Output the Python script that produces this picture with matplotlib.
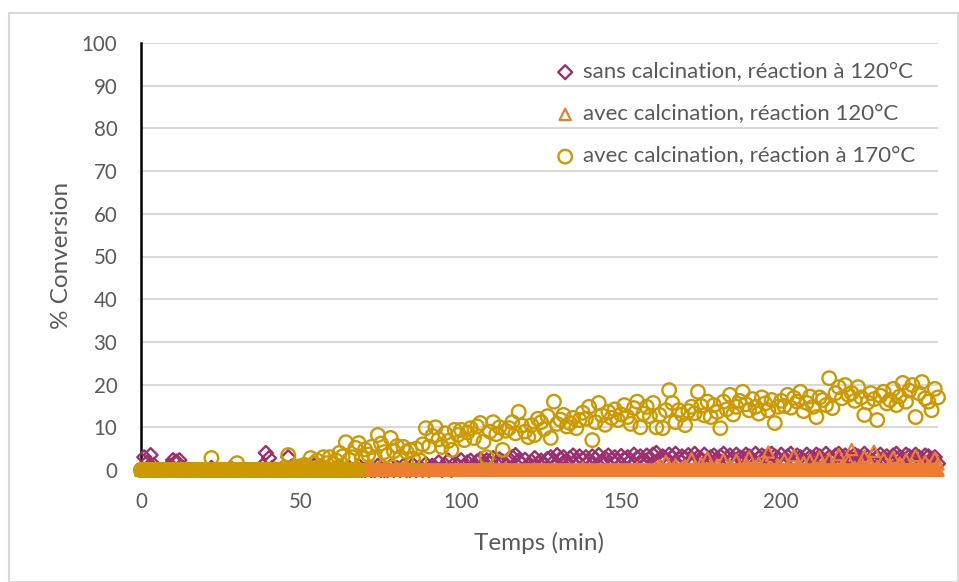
import matplotlib
matplotlib.use("Agg")
import matplotlib.pyplot as plt
from matplotlib.patches import Rectangle

# ---------------- data ----------------
temps = list(range(0, 250))  # minutes, one reading per minute

sans_calc_120 = [
    0, 3.0, 1.8, 3.5, 1.2, 0, 0, 0, 0, 1.0,
    2.3, 2.0, 2.3, 0.5, 0, 0, 0, 0, 0, 0,
    0, 0, 0.5, 0, 0, 0, 0, 0, 0.5, 0,
    0, 0, 0, 0, 0, 0, 0, 0, 1.0, 4.0,
    2.8, 0.5, 0, 0, 0, 0, 3.0, 0.8, 0, 0,
    0, 0.5, 0, 0, 1.0, 0, 0, 0.5, 0, 0,
    0, 0, 0.8, 0, 0, 0.5, 0, 0, 1.0, 0,
    0, 0.6, 0, 0, 1.0, 0, 0, 0, 0.8, 0,
    0.5, 0, 1.0, 0, 0, 1.2, 0, 0.6, 0, 1.4,
    0, 1.0, 0.5, 1.8, 0, 1.2, 2.2, 0, 1.5, 1.0,
    2.3, 1.0, 1.8, 2.2, 0.8, 2.0, 2.5, 1.2, 2.3, 1.6,
    2.8, 1.4, 2.5, 2.0, 1.0, 2.6, 3.0, 3.5, 2.2, 1.5,
    2.4, 1.0, 2.0, 2.8, 1.6, 2.2, 1.2, 2.6, 3.0, 2.0,
    3.5, 2.6, 3.0, 1.8, 2.8, 3.4, 2.2, 3.2, 2.5, 3.0,
    2.0, 3.2, 2.6, 3.5, 2.0, 2.8, 3.4, 2.4, 3.0, 2.2,
    3.3, 2.6, 3.0, 2.2, 3.6, 2.8, 3.2, 2.0, 3.4, 2.8,
    3.6, 4.0, 2.6, 3.2, 2.4, 3.6, 3.0, 3.8, 2.6, 3.2,
    2.8, 3.5, 2.4, 3.8, 3.0, 2.6, 3.6, 2.2, 3.0, 3.4,
    2.6, 3.2, 3.8, 2.8, 3.4, 2.4, 3.6, 3.0, 2.8, 3.6,
    3.2, 2.4, 3.8, 2.8, 3.4, 3.0, 2.6, 3.8, 3.2, 2.8,
    3.6, 2.4, 3.2, 3.8, 2.6, 3.4, 3.0, 2.2, 3.6, 3.0,
    2.8, 3.6, 3.2, 2.4, 3.8, 3.0, 2.6, 3.4, 3.8, 2.8,
    3.4, 3.0, 2.6, 3.6, 3.2, 2.8, 3.8, 3.0, 2.4, 3.4,
    3.0, 3.6, 2.8, 3.2, 2.6, 3.4, 3.8, 3.0, 2.6, 3.6,
    3.2, 2.8, 3.6, 3.0, 2.4, 3.4, 3.2, 2.6, 3.0, 1.5,
]

avec_calc_120 = [
    0, 0, 0, 0, 0, 0, 0, 0, 0, 0,
    0, 0, 0, 0, 0, 0, 0, 0, 0, 0,
    0, 0, 0, 0, 0, 0, 0, 0, 0, 0,
    0, 0, 0, 0, 0, 0, 0, 0, 0, 0,
    0, 0, 0, 0, 0, 0, 0, 0, 0, 0,
    0, 0, 0, 0, 0, 0, 0, 0, 0, 0,
    0, 0, 0, 0, 0, 0, 0, 0, 0, 0,
    0, 0, 1.0, 0, 0, 0, 0.5, 0, 0, 0,
    0, 0, 0, 0, 0, 0, 0, 0, 0, 0,
    0, 0, 0, 0, 0, 0, 0, 0, 0, 0,
    0, 0, 0, 0, 0, 0, 0, 0, 0, 0,
    0, 0, 0, 0, 0.5, 0, 0, 0, 0, 0,
    0, 0, 0, 0, 0, 0, 0, 0, 0, 0,
    0, 0, 0, 0, 0, 0, 0, 0, 0.5, 0,
    0, 0, 0, 0, 0, 0, 0, 0, 0, 0,
    0, 0, 0, 0, 0, 0.5, 0, 0, 0, 0,
    0, 0.5, 1.0, 0, 2.0, 0.8, 0, 1.2, 0, 0.5,
    1.0, 0, 2.6, 0.8, 0, 1.5, 0, 2.8, 0.6, 0,
    1.2, 0, 2.4, 0, 1.0, 0, 2.3, 0.5, 0, 1.4,
    3.0, 0, 0.8, 1.6, 0, 2.0, 4.2, 0.5, 0, 1.2,
    0, 2.4, 0.6, 0, 3.4, 1.0, 0, 1.8, 0, 2.2,
    0.5, 0, 3.0, 1.2, 0, 2.6, 0.8, 0, 3.6, 1.0,
    0, 2.2, 4.8, 0.6, 0, 1.8, 3.2, 0, 1.4, 4.4,
    0.8, 0, 2.6, 0, 1.2, 3.0, 0, 1.6, 0.4, 2.4,
    0, 1.2, 3.4, 0.6, 0, 2.0, 1.0, 0, 2.8, 1.4,
]

avec_calc_170 = [
    0, 0, 0, 0, 0, 0, 0, 0, 0, 0,
    0, 0, 0, 0, 0, 0, 0, 0, 0, 0,
    0, 0, 2.8, 0, 0, 0, 0, 0, 0, 0,
    1.6, 0, 0, 0, 0, 0, 0, 0, 0, 0,
    0, 0, 0, 0, 0, 0.6, 3.5, 0, 0.5, 0.8,
    0.4, 1.2, 0.8, 2.8, 1.5, 2.2, 0.9, 3.0, 1.6, 3.0,
    1.4, 2.2, 4.0, 3.2, 6.5, 2.4, 3.0, 5.2, 6.3, 2.8,
    4.8, 3.6, 5.4, 3.0, 8.2, 6.2, 4.2, 3.5, 7.5, 4.4,
    5.6, 3.0, 5.4, 4.2, 4.7, 2.6, 5.0, 2.3, 6.0, 9.8,
    5.5, 8.0, 10.0, 7.2, 5.4, 8.6, 6.8, 4.7, 9.4, 8.2,
    9.4, 7.0, 8.8, 9.8, 7.5, 10.2, 11.0, 6.6, 3.0, 9.0,
    11.2, 8.4, 10.0, 4.7, 9.2, 9.8, 11.2, 8.6, 13.6, 10.4,
    9.0, 7.7, 10.5, 8.2, 12.0, 11.2, 9.6, 12.6, 7.5, 16.0,
    10.8, 11.8, 12.9, 10.2, 11.0, 12.2, 9.8, 11.7, 13.4, 12.0,
    14.8, 7.0, 11.2, 15.7, 12.8, 10.6, 13.6, 12.2, 14.2, 11.7,
    13.0, 15.2, 12.4, 10.8, 14.5, 16.0, 10.0, 13.2, 14.8, 12.6,
    15.7, 10.0, 12.9, 9.8, 14.0, 18.7, 15.7, 11.2, 14.0, 13.0,
    10.5, 13.8, 14.8, 13.3, 18.3, 15.0, 12.8, 16.0, 12.4, 15.2,
    13.6, 9.8, 16.0, 14.2, 17.6, 13.0, 14.8, 16.2, 18.3, 15.4,
    14.0, 16.6, 14.8, 13.2, 17.0, 15.6, 14.0, 16.4, 11.0, 14.8,
    16.2, 15.0, 17.6, 14.6, 16.9, 16.0, 18.3, 13.8, 15.7, 17.2,
    14.8, 12.4, 17.0, 16.4, 15.2, 21.5, 14.5, 18.0, 19.4, 16.8,
    19.9, 17.6, 18.0, 16.2, 19.4, 17.0, 12.9, 15.8, 18.0, 16.6,
    11.7, 17.4, 18.3, 15.6, 16.4, 19.0, 15.2, 17.2, 20.4, 16.0,
    18.6, 19.9, 12.4, 18.0, 20.6, 16.8, 16.0, 14.0, 19.0, 17.0,
]

# The intermediate readings (every 15 s) that sit on 0 % conversion and form
# the solid band along the time axis in the reference chart.
temps_fin_120 = [i / 4 for i in range(0, 997)]      # 0 - 249 min
zero_120 = [0.0] * len(temps_fin_120)
temps_fin_170 = [i / 4 for i in range(0, 273)]      # 0 - 68 min
zero_170 = [0.0] * len(temps_fin_170)

labels = [
    "sans calcination, réaction à 120°C",
    "avec calcination, réaction 120°C",
    "avec calcination, réaction à 170°C",
]
colors = ["#9E2F6E", "#ED7D31", "#CC9A00"]
x_ticks = [0, 50, 100, 150, 200]
y_ticks = [0, 10, 20, 30, 40, 50, 60, 70, 80, 90, 100]

# ---------------- figure ----------------
plt.rcParams["font.family"] = ["Lato", "DejaVu Sans"]
text_color = "#595959"

W, H = 959, 582
fig = plt.figure(figsize=(W / 100, H / 100), dpi=100)
ax = fig.add_axes([141 / W, 1 - 470 / H, (938 - 141) / W, (470 - 43) / H])

# outer chart border
fig.patches.append(Rectangle((9 / W, 0), 949 / W, 1 - 13 / H,
                             transform=fig.transFigure, fill=False,
                             edgecolor="#D9D9D9", linewidth=1.5, zorder=0))

style = dict(facecolors="none", clip_on=False)
ax.scatter(temps, sans_calc_120, marker="D", s=50, edgecolors=colors[0],
           linewidths=1.7, zorder=3, label=labels[0], **style)
ax.scatter(temps_fin_120, zero_120, marker="^", s=66, edgecolors=colors[1],
           linewidths=1.6, zorder=4, **style)
ax.scatter(temps, avec_calc_120, marker="^", s=66, edgecolors=colors[1],
           linewidths=1.6, zorder=4, label=labels[1], **style)
ax.scatter(temps_fin_170, zero_170, marker="o", s=95, edgecolors=colors[2],
           linewidths=1.7, zorder=5, **style)
ax.scatter(temps, avec_calc_170, marker="o", s=95, edgecolors=colors[2],
           linewidths=1.7, zorder=5, label=labels[2], **style)

ax.set_xlim(0, 249)
ax.set_ylim(0, 100)
ax.set_xticks(x_ticks)
ax.set_yticks(y_ticks)
ax.grid(axis="y", color="#D9D9D9", linewidth=1.5)
ax.set_axisbelow(True)

for side in ["top", "right", "bottom"]:
    ax.spines[side].set_visible(False)
ax.spines["left"].set_color("black")
ax.spines["left"].set_linewidth(1.8)
ax.spines["left"].set_zorder(2)

ax.tick_params(axis="both", length=0, labelsize=14.8, labelcolor=text_color)
ax.tick_params(axis="y", pad=17)
ax.tick_params(axis="x", pad=16)

ax.set_xlabel("Temps (min)", fontsize=17.5, color=text_color, labelpad=14)
ax.set_ylabel("% Conversion", fontsize=17.5, color=text_color,
              va="center", ha="center")
ax.yaxis.set_label_coords(62 / W, 1 - 255 / H, transform=fig.transFigure)

leg = ax.legend(loc="upper left", bbox_to_anchor=(558.5 / W, 1 - 62 / H),
                bbox_transform=fig.transFigure, frameon=False,
                fontsize=16, handlelength=0.6, handletextpad=0.5,
                labelspacing=1.0, borderpad=0, borderaxespad=0)
for t in leg.get_texts():
    t.set_color(text_color)

fig.savefig("out.png", dpi=100)
